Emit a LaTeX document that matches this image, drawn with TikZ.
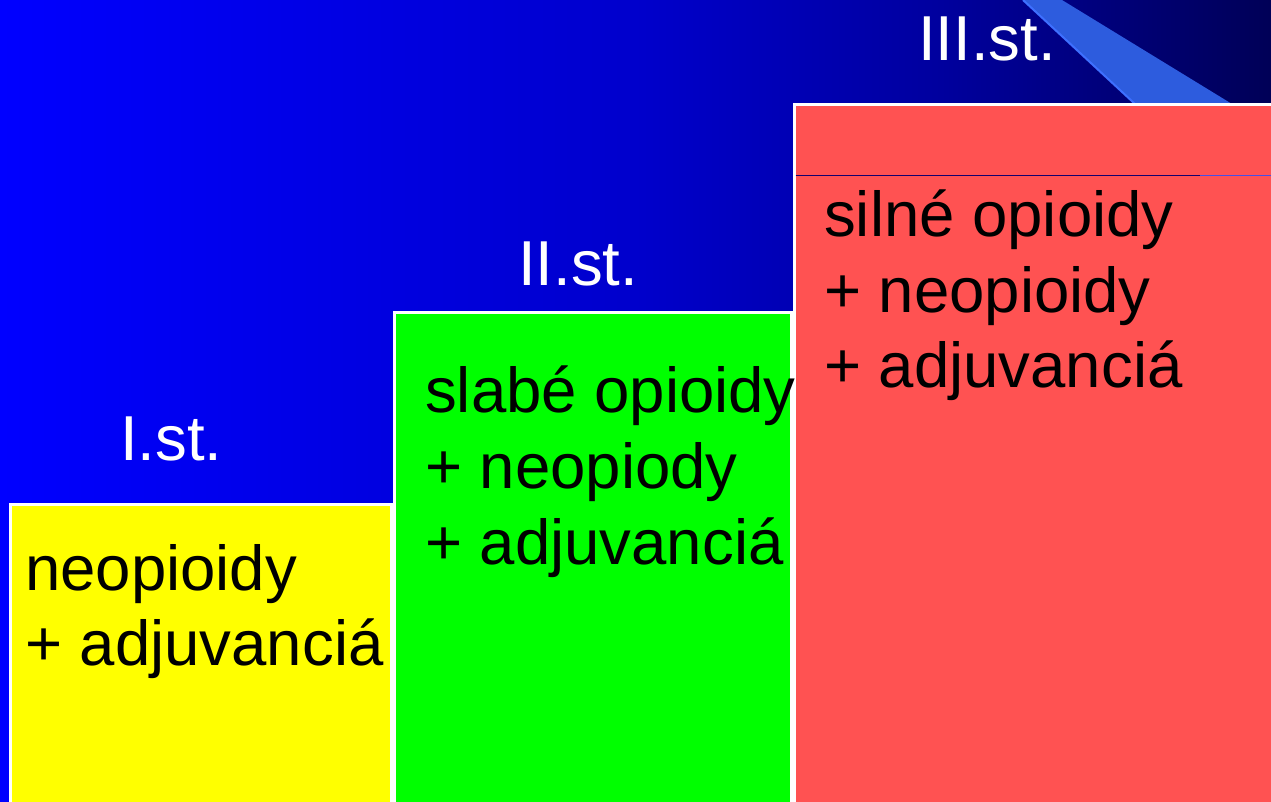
\documentclass[tikz,border=0pt]{standalone}
\usepackage{fontspec}
\setmainfont{Liberation Sans}
\definecolor{boxyellow}{RGB}{255,255,0}
\definecolor{boxgreen}{RGB}{0,255,0}
\definecolor{boxred}{RGB}{255,82,82}
\definecolor{beam}{RGB}{45,92,222}
\definecolor{beamedge}{RGB}{62,112,255}
\definecolor{navyline}{RGB}{20,0,110}
\definecolor{blueline}{RGB}{70,80,230}
\pgfdeclarehorizontalshading{bgshade}{100bp}{rgb(0bp)=(0,0,1); rgb(25bp)=(0,0,1); rgb(30bp)=(0,0,0.96); rgb(50bp)=(0,0,0.8); rgb(62bp)=(0,0,0.62); rgb(75bp)=(0,0,0.34); rgb(100bp)=(0,0,0.34)}
\tikzset{
  stepbox/.style={draw=white, line width=3pt},
  steplabel/.style={anchor=base west, inner sep=0pt, text=white, font=\fontsize{63.5}{75}\selectfont},
  boxtext/.style={anchor=base west, inner sep=0pt, text=black, font=\fontsize{63.5}{75}\selectfont},
}
\begin{document}
\begin{tikzpicture}[x=1pt,y=-1pt]
\useasboundingbox (0,0) rectangle (1271,801);
\shade[shading=bgshade] (0,0) rectangle (1271,801);
% light beam top right
\fill[beam] (1023,0) -- (1062,0) -- (1232,104) -- (1135,104) -- cycle;
\draw[beamedge, line width=2pt] (1023,0) -- (1135,104);
% boxes
\filldraw[stepbox, fill=boxyellow] (10.5,504.5) rectangle (391.8,815);
\filldraw[stepbox, fill=boxgreen] (394.2,312.2) rectangle (791.8,815);
\filldraw[stepbox, fill=boxred] (794.2,104.5) rectangle (1285,815);
\draw[navyline, line width=1pt] (795.7,175.3) -- (1200,175.3);
\draw[blueline, line width=1pt] (1200,175.3) -- (1271,175.3);
% step labels
\node[steplabel] (l1) at (120,460) {I.st.};
\node[steplabel] (l2) at (518,285) {II.st.};
\node[steplabel] (l3) at (918,60) {III.st.};
% yellow box text
\node[boxtext] (y1) at (25,590) {neopioidy};
\node[boxtext] (y2) at (25,665) {+ adjuvanciá};
% green box text
\node[boxtext] (g1) at (425,412) {slabé opioidy};
\node[boxtext] (g2) at (425,488) {+ neopiody};
\node[boxtext] (g3) at (425,564) {+ adjuvanciá};
% red box text
\node[boxtext] (r1) at (824,236) {silné opioidy};
\node[boxtext] (r2) at (824,312) {+ neopioidy};
\node[boxtext] (r3) at (824,387) {+ adjuvanciá};
\end{tikzpicture}
\end{document}
